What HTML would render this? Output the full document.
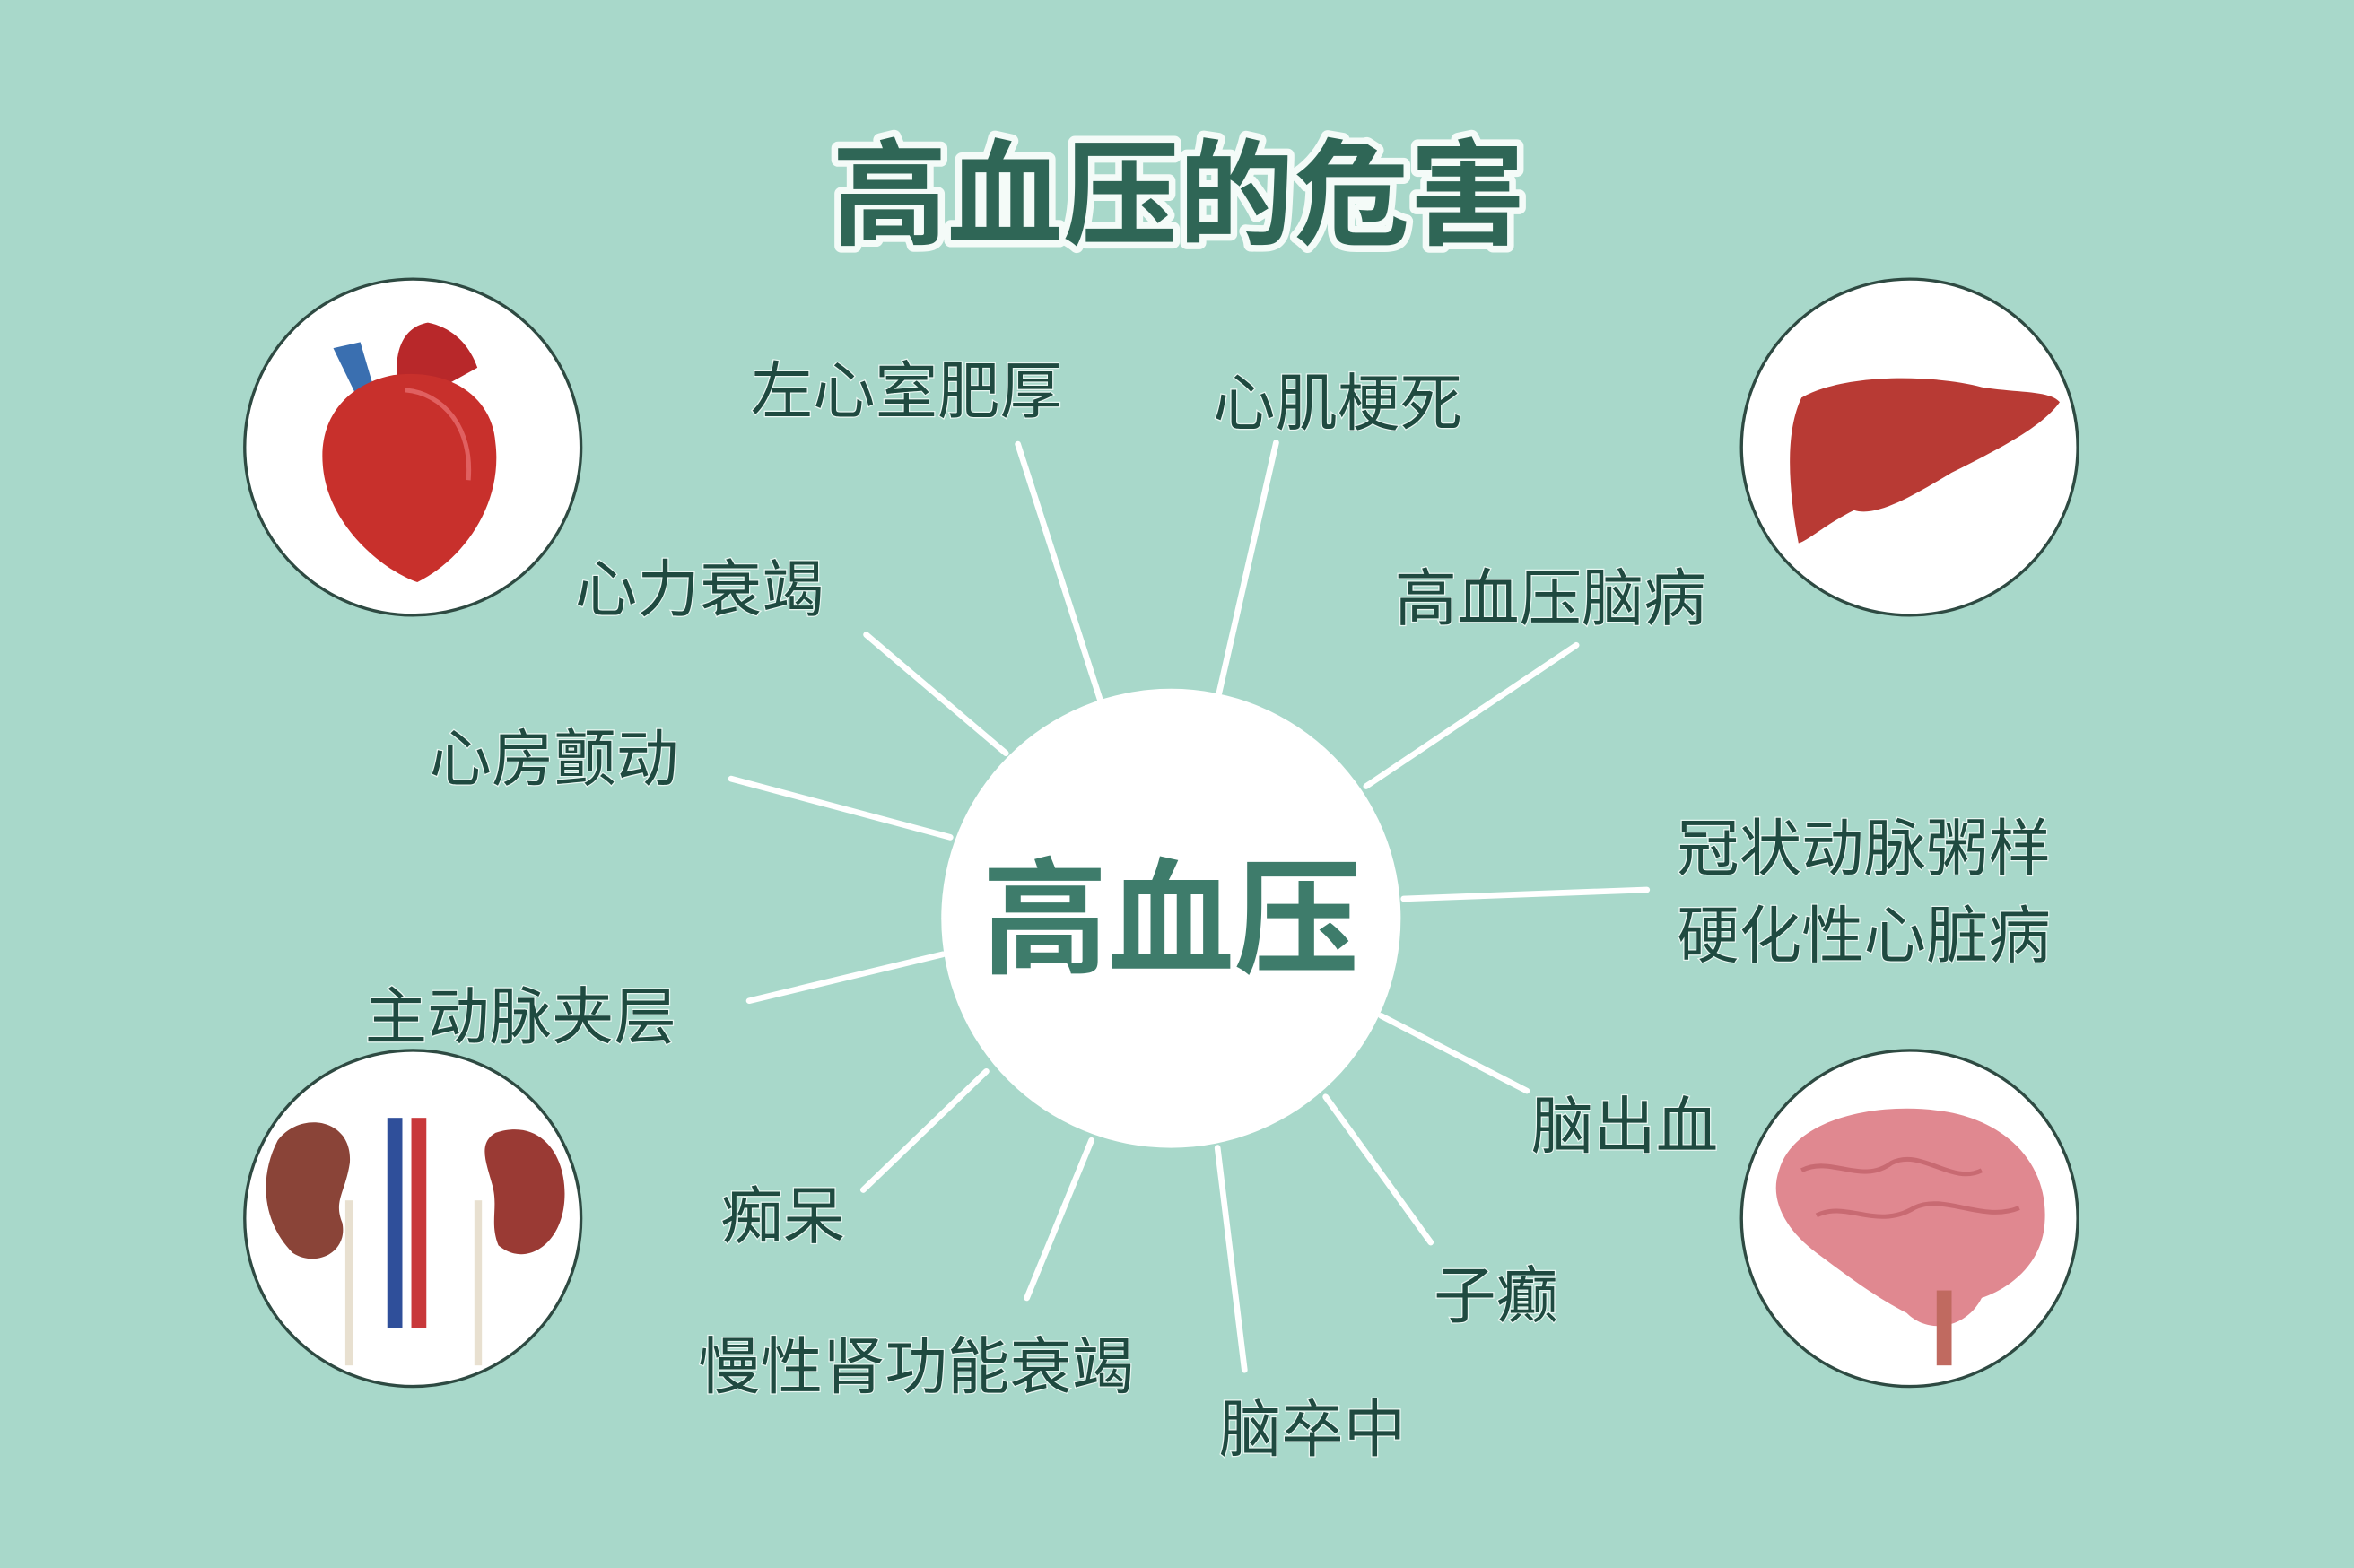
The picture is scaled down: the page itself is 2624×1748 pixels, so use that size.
<!DOCTYPE html>
<html><head><meta charset="utf-8"><style>
html,body{margin:0;padding:0;background:#a8d8ca;}
svg{display:block}
text{font-family:"Liberation Sans","Noto Sans CJK SC",sans-serif;}
</style></head><body>
<svg width="2624" height="1748" viewBox="0 0 1568 1045" preserveAspectRatio="none" xmlns="http://www.w3.org/2000/svg">
<rect width="1568" height="1045" fill="#a8d8ca"/>
<text x="785" y="157" text-anchor="middle" font-size="77" font-weight="bold" fill="#2f6656" stroke="#f4fbf8" stroke-width="9" paint-order="stroke" stroke-linejoin="round">高血压的危害</text>
<g stroke="#ffffff" stroke-width="4" stroke-linecap="round">
<line x1="678" y1="296" x2="733" y2="467"/>
<line x1="850" y1="295" x2="812" y2="462"/>
<line x1="577" y1="423" x2="670" y2="502"/>
<line x1="1050" y1="430" x2="910" y2="524"/>
<line x1="487" y1="519" x2="633" y2="558"/>
<line x1="935" y1="599" x2="1097" y2="593"/>
<line x1="499" y1="667" x2="628" y2="636"/>
<line x1="920" y1="677" x2="1017" y2="727"/>
<line x1="575" y1="793" x2="657" y2="714"/>
<line x1="883" y1="731" x2="953" y2="828"/>
<line x1="684" y1="865" x2="727" y2="760"/>
<line x1="811" y1="765" x2="829" y2="913"/>
</g>
<circle cx="780" cy="612" r="153" fill="#ffffff"/>
<text x="780" y="642" text-anchor="middle" font-size="84" font-weight="bold" fill="#3e7c6b">高血压</text>
<g font-size="41.5" fill="#1f4a40" stroke="#e8f6f1" stroke-width="1.5" paint-order="stroke">
<text x="500" y="275">左心室肥厚</text>
<text x="808" y="283">心肌梗死</text>
<text x="383" y="407">心力衰竭</text>
<text x="929" y="413">高血压脑病</text>
<text x="286" y="520">心房颤动</text>
<text x="1117" y="580">冠状动脉粥样</text>
<text x="1117" y="638">硬化性心脏病</text>
<text x="243" y="692">主动脉夹层</text>
<text x="1020" y="765">脑出血</text>
<text x="480" y="825">痴呆</text>
<text x="955" y="878">子癫</text>
<text x="465" y="925">慢性肾功能衰竭</text>
<text x="812" y="967">脑卒中</text>
</g>
<g fill="#ffffff" stroke="#2e4a42" stroke-width="2">
<circle cx="275" cy="298" r="112"/>
<circle cx="1272" cy="298" r="112"/>
<circle cx="275" cy="812" r="112"/>
<circle cx="1272" cy="812" r="112"/>
</g>
<!-- heart -->
<path d="M222 232 L240 228 L250 262 L238 265 Z" fill="#3a6fb0"/>
<path d="M265 255 C262 235 268 218 285 215 C300 218 312 228 318 245 L300 255 Z" fill="#b8282a"/>
<path d="M262 250 C235 255 212 275 215 310 C218 350 255 380 278 388 C310 372 335 335 330 295 C328 265 300 245 262 250 Z" fill="#c8302c"/>
<path d="M270 260 C295 262 315 285 312 320" stroke="#e06060" stroke-width="3" fill="none"/>
<!-- liver -->
<path d="M1200 265 C1230 248 1290 250 1320 258 C1345 262 1365 260 1372 268 C1360 285 1330 300 1300 315 C1275 330 1250 345 1235 340 C1215 350 1205 360 1198 362 C1192 330 1188 290 1200 265 Z" fill="#b83a34"/>
<!-- kidneys -->
<path d="M185 760 C200 740 235 745 233 775 C230 795 222 800 228 815 C232 835 210 845 195 835 C175 815 172 785 185 760 Z" fill="#8a4438"/>
<path d="M330 755 C360 745 378 770 376 800 C374 830 350 845 332 830 C326 815 332 805 328 790 C324 775 318 762 330 755 Z" fill="#9a3a34"/>
<rect x="258" y="745" width="10" height="140" fill="#2f4f9a"/>
<rect x="274" y="745" width="10" height="140" fill="#c8383a"/>
<rect x="230" y="800" width="5" height="110" fill="#e8e0d0"/>
<rect x="316" y="800" width="5" height="110" fill="#e8e0d0"/>
<!-- brain -->
<path d="M1185 780 C1195 745 1250 735 1290 740 C1335 745 1365 775 1362 815 C1360 845 1335 860 1320 865 C1310 885 1285 890 1270 875 C1250 865 1230 850 1210 835 C1190 820 1178 800 1185 780 Z" fill="#e08890"/>
<path d="M1200 780 C1220 770 1240 790 1260 775 C1280 765 1300 790 1320 780 M1210 810 C1230 800 1250 820 1275 805 C1295 795 1320 815 1345 805" stroke="#c86a72" stroke-width="3" fill="none"/>
<rect x="1290" y="860" width="10" height="50" fill="#c06a60"/>
</svg>
</body></html>
